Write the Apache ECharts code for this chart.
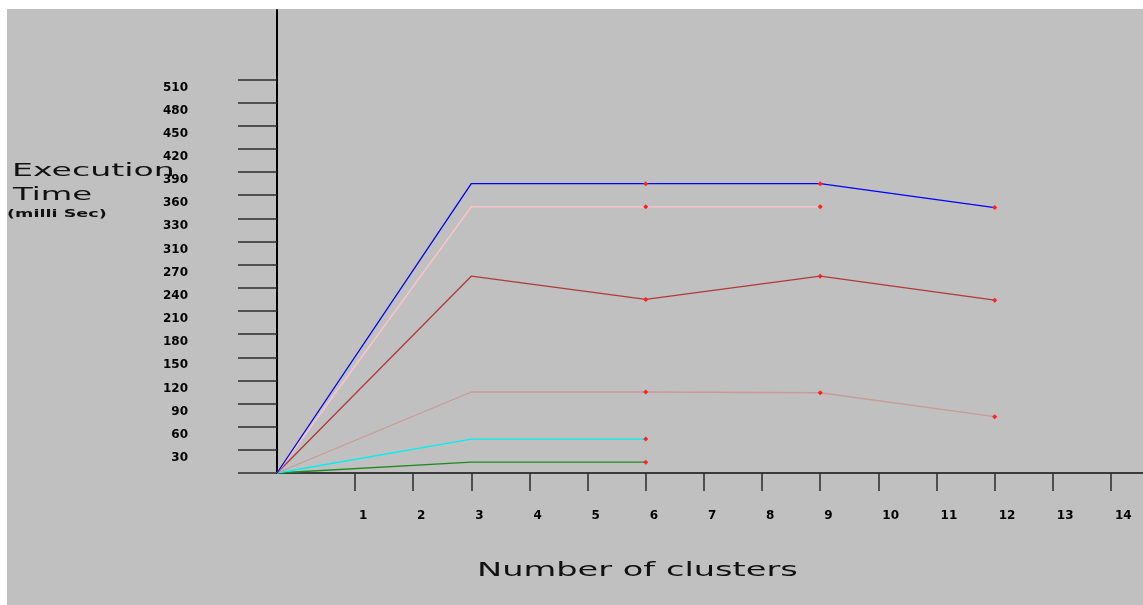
<!DOCTYPE html>
<html>
<head>
<meta charset="utf-8">
<script src="https://cdn.jsdelivr.net/npm/echarts@6/dist/echarts.min.js"></script>
<style>
    html, body { margin: 0; padding: 0; background: #ffffff; }
    #chart { position: absolute; left: 7px; top: 9px; width: 1136px; height: 596px; background: #c0c0c0; }
</style>
</head>
<body>
<div id="chart"></div>
<script>
// x positions of the points (first point sits on the axis origin, a bit left of 0)
var clusterX = [-0.34, 3, 6, 9, 12];

var blueTimes = [0, 375, 375, 375, 344];
var pinkTimes = [0, 345, 345, 345];
var brownTimes = [0, 255, 225, 255, 224];
var rosyTimes = [0, 105, 105, 104, 73];
var cyanTimes = [0, 44, 44];
var greenTimes = [0, 14, 14];

var xTickValues = [1, 2, 3, 4, 5, 6, 7, 8, 9, 10, 11, 12, 13, 14];
var yTickValues = [0, 30, 60, 90, 120, 150, 180, 210, 240, 270, 300, 330, 360, 390, 420, 450, 480, 510];
var yLabelValues = [30, 60, 90, 120, 150, 180, 210, 240, 270, 300, 330, 360, 390, 420, 450, 480, 510];
var yLabelTexts = ['30', '60', '90', '120', '150', '180', '210', '240', '270', '310', '330', '360', '390', '420', '450', '480', '510'];

function pairs(ys) {
    var out = [];
    for (var i = 0; i < ys.length; i++) out.push([clusterX[i], ys[i]]);
    return out;
}

function lineSeries(ys, color) {
    return {
        type: 'line',
        data: pairs(ys),
        symbol: 'diamond',
        symbolSize: function (v, p) { return p.dataIndex >= 2 ? 5 : 0; },
        itemStyle: { color: '#ff2020' },
        lineStyle: { color: color, width: 1.3 },
        z: 3
    };
}

var chart = echarts.init(document.getElementById('chart'));
var font = 'DejaVu Sans';

chart.setOption({
    animation: false,
    grid: { left: 270, top: 1, right: 0, bottom: 132 },
    xAxis: {
        type: 'value',
        min: -0.34,
        max: 14.55,
        splitLine: { show: false },
        axisLine: { lineStyle: { color: '#111', width: 1.5 } },
        axisTick: { customValues: xTickValues, length: 18, lineStyle: { color: '#2b2b2b', width: 1.5 } },
        axisLabel: {
            customValues: xTickValues,
            margin: 37,
            align: 'left',
            padding: [0, 0, 0, 4],
            fontFamily: font,
            fontWeight: 'bold',
            fontSize: 12,
            color: '#000'
        }
    },
    yAxis: {
        type: 'value',
        min: 0,
        max: 600,
        splitLine: { show: false },
        axisLine: { show: true, onZero: false, lineStyle: { color: '#000', width: 2 } },
        axisTick: { customValues: yTickValues, length: 39, lineStyle: { color: '#2b2b2b', width: 1.5 } },
        axisLabel: {
            customValues: yLabelValues,
            margin: 89,
            verticalAlign: 'top',
            padding: [2, 0, 0, 0],
            fontFamily: font,
            fontWeight: 'bold',
            fontSize: 12,
            color: '#000',
            formatter: function (v) {
                var i = yLabelValues.indexOf(v);
                return i >= 0 ? yLabelTexts[i] : '';
            }
        }
    },
    graphic: [
        { type: 'text', x: 5, y: 163, scaleX: 1.95, style: { text: 'Execution', fontFamily: font, fontSize: 17, fill: '#111', verticalAlign: 'middle' } },
        { type: 'text', x: 6, y: 187, scaleX: 1.9, style: { text: 'Time', fontFamily: font, fontSize: 17, fill: '#111', verticalAlign: 'middle' } },
        { type: 'text', x: 0, y: 205, scaleX: 1.6, style: { text: '(milli Sec)', fontFamily: font, fontWeight: 'bold', fontSize: 11, fill: '#111', verticalAlign: 'middle' } },
        { type: 'text', x: 470, y: 562, scaleX: 1.77, style: { text: 'Number of clusters', fontFamily: font, fontSize: 19, fill: '#111', verticalAlign: 'middle' } }
    ],
    series: [
        lineSeries(greenTimes, '#1f8a1f'),
        lineSeries(cyanTimes, '#00f0f0'),
        lineSeries(rosyTimes, '#c89a9a'),
        lineSeries(brownTimes, '#b03a3a'),
        lineSeries(pinkTimes, '#ffc4cc'),
        lineSeries(blueTimes, '#0000ff')
    ]
});
</script>
</body>
</html>
